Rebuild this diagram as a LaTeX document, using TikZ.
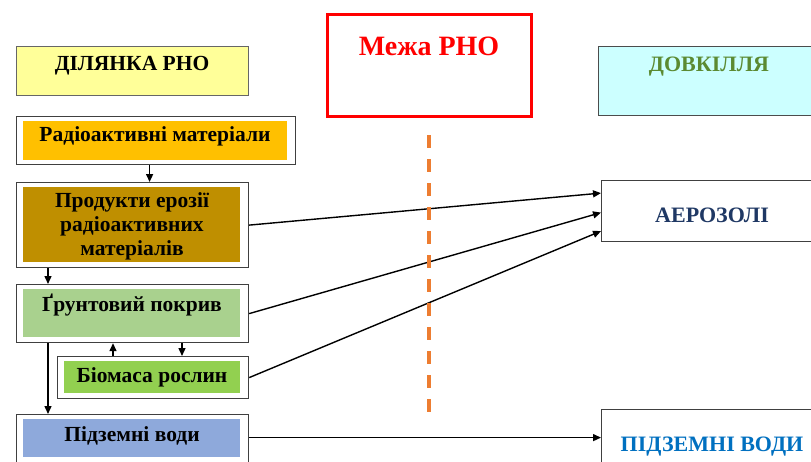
\documentclass[tikz,border=0pt]{standalone}
\usepackage{fontspec}
\setmainfont{Liberation Serif}
\usetikzlibrary{arrows.meta}
\definecolor{siteyellow}{HTML}{FFFF99}
\definecolor{envcyan}{HTML}{CCFFFF}
\definecolor{envgreen}{HTML}{5B8A32}
\definecolor{radorange}{HTML}{FFC000}
\definecolor{erosionbrown}{HTML}{BF8F00}
\definecolor{soilgreen}{HTML}{A9D18E}
\definecolor{plantgreen}{HTML}{92D050}
\definecolor{waterblue}{HTML}{8EA9DB}
\definecolor{aeronavy}{HTML}{1F3864}
\definecolor{envblue}{HTML}{0070C0}
\definecolor{limitorange}{HTML}{ED7D31}
\tikzset{
  frame/.style={draw=black!75, line width=1.2pt, fill=white, anchor=north west, inner sep=0pt},
  core/.style={anchor=north west, inner sep=0pt},
  caption/.style={font=\bfseries\fontsize{21.5}{24}\selectfont, anchor=base, align=center, inner sep=0pt},
  envcaption/.style={caption, font=\bfseries\fontsize{22}{24}\selectfont},
  flow/.style={-{Triangle[length=8pt,width=7pt]}, line width=1.4pt},
  boundary/.style={draw=limitorange, line width=3.5pt, dash pattern=on 13pt off 11pt}
}
\begin{document}
\begin{tikzpicture}[x=1pt,y=-1pt]
			\clip(0,0)rectangle(811,461);
			% headings
			\node[frame, draw=black!60, fill=siteyellow, minimum width=232pt, minimum height=49pt] (site) at (16,46) {};
			\node[caption] (sitetext) at (132,70) {ДІЛЯНКА РНО};
			\node[frame, draw=red, line width=3pt, minimum width=204pt, minimum height=102pt] (limit) at (326,13) {};
			\node[caption, text=red, font=\bfseries\fontsize{28}{30}\selectfont] (limittext) at (429,55) {Межа РНО};
			\node[frame, draw=black!70, fill=envcyan, minimum width=230pt, minimum height=69pt] (env) at (598,46) {};
			\node[envcaption, text=envgreen] (envtext) at (709,71) {ДОВКІЛЛЯ};
			% site column
			\node[frame, minimum width=279pt, minimum height=48pt] (radmat) at (16,116) {};
			\node[core, fill=radorange, minimum width=264pt, minimum height=39pt] (radmatfill) at (23,121) {};
			\node[caption] (radmattext) at (155,141) {Радіоактивні матеріали};
			\node[frame, minimum width=232pt, minimum height=85pt] (erosion) at (16,182) {};
			\node[core, fill=erosionbrown, minimum width=217pt, minimum height=75pt] (erosionfill) at (23,187) {};
			\node[caption, anchor=center] (erosiontext) at (132,226) {Продукти ерозії\\радіоактивних\\матеріалів};
			\node[frame, minimum width=232pt, minimum height=58pt] (soil) at (16,284) {};
			\node[core, fill=soilgreen, minimum width=217pt, minimum height=48pt] (soilfill) at (23,289) {};
			\node[caption] (soiltext) at (132,311) {Ґрунтовий покрив};
			\node[frame, minimum width=191pt, minimum height=42pt] (biomass) at (57,356) {};
			\node[core, fill=plantgreen, minimum width=176pt, minimum height=32pt] (biomassfill) at (64,361) {};
			\node[caption] (biomasstext) at (152,382) {Біомаса рослин};
			\node[frame, minimum width=232pt, minimum height=60pt] (ground) at (16,414) {};
			\node[core, fill=waterblue, minimum width=217pt, minimum height=38pt] (groundfill) at (23,419) {};
			\node[caption] (groundtext) at (132,441) {Підземні води};
			% environment column
			\node[frame, minimum width=220pt, minimum height=61pt] (aerosol) at (601,180) {};
			\node[envcaption, text=aeronavy] (aerosoltext) at (712,222) {АЕРОЗОЛІ};
			\node[frame, minimum width=220pt, minimum height=70pt] (groundenv) at (601,409) {};
			\node[envcaption, text=envblue] (groundenvtext) at (712,451) {ПІДЗЕМНІ ВОДИ};
			% transfers
			\draw[flow]([xshift=-6.5pt]radmat.south)--([xshift=-6.5pt]radmat.south|-erosion.north);
			\draw[flow]([xshift=32pt]erosion.south west)--([xshift=32pt]erosion.south west|-soil.north);
			\draw[flow]([xshift=32pt]soil.south west)--([xshift=32pt]soil.south west|-ground.north);
			\draw[flow]([xshift=56pt]biomass.north west)--([xshift=56pt]biomass.north west|-soil.south);
			\draw[flow]([xshift=125pt]biomass.north west|-soil.south)--([xshift=125pt]biomass.north west);
			\draw[flow](erosion.east)--([yshift=18pt]aerosol.west);
			\draw[flow](soil.east)--([yshift=-1.5pt]aerosol.west);
			\draw[flow](biomass.east)--([yshift=-20pt]aerosol.west);
			\draw[flow]([yshift=7pt]ground.east)--([yshift=7pt]ground.east-|groundenv.west);
			% boundary
			\draw[boundary](429,135)--(429,413);
		\end{tikzpicture}
\end{document}
